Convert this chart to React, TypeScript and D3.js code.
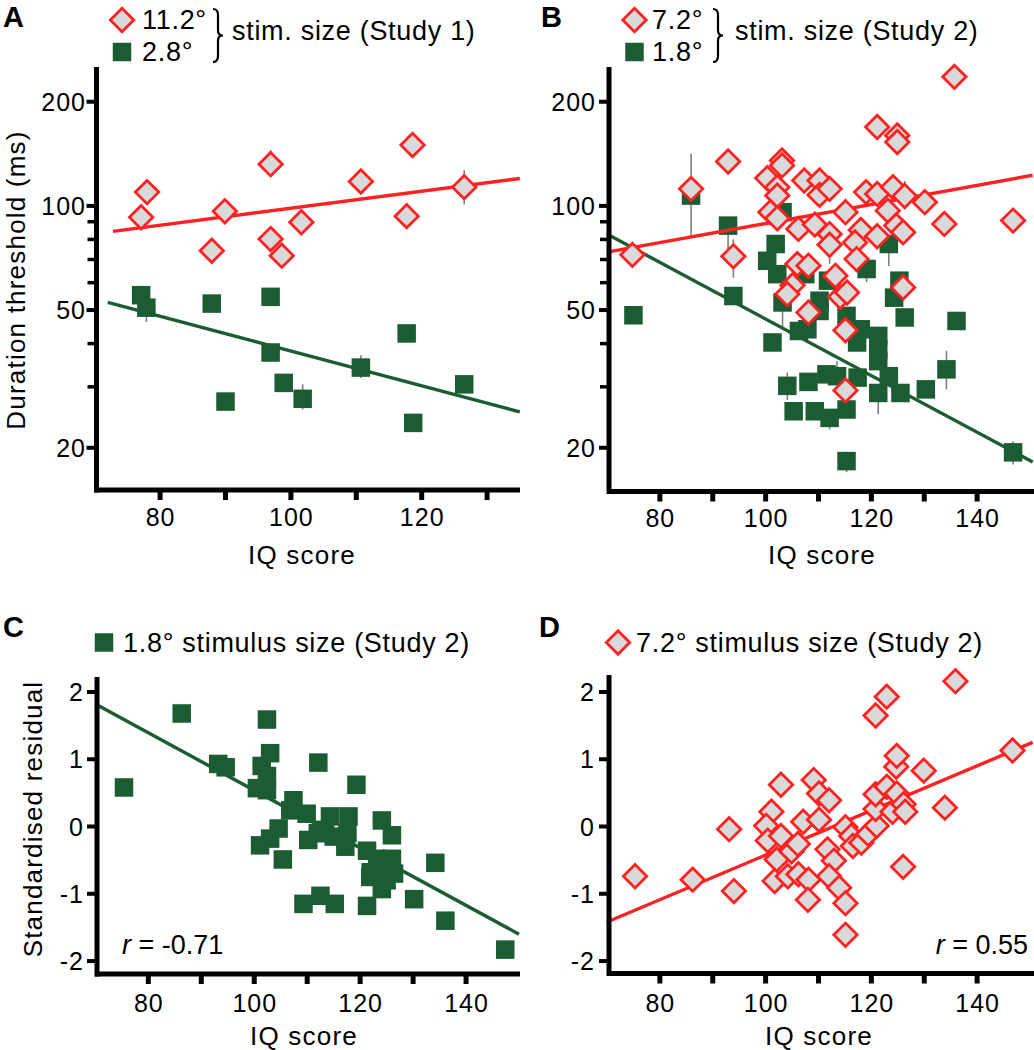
import React from 'react';
import * as d3 from 'd3';

const RED = '#ff2222';
const GREEN = '#1b5c33';
const FILL = '#d9d9d9';
const ERR = '#808080';
const FONT = "'Liberation Sans', Arial, Helvetica, sans-serif";

// ---------- Study 1 (panel A): [IQ, duration threshold ms]
const s1Large: [number, number][] = [
  [77.1, 92.7], [78.0, 109.6], [87.9, 74.2], [89.9, 96.5], [96.9, 132], [96.9, 80.2],
  [98.6, 71.8], [101.6, 89.7], [110.7, 117.6], [117.7, 93.4], [118.6, 150], [126.5, 113.3],
];
const s1Small: [number, number][] = [
  [77.1, 55.2], [77.9, 50.8], [87.9, 52.2], [90.0, 27.2], [96.9, 54.6], [96.9, 37.7],
  [98.9, 30.8], [101.8, 27.7], [110.7, 34.1], [117.7, 42.8], [118.7, 23.6], [126.5, 30.5],
];
const s1LargeErr: [number, number, number][] = [[96.9, 121, 145], [110.7, 109, 127], [126.5, 101, 127]];
const s1SmallErr: [number, number, number][] = [
  [77.9, 46.2, 55], [96.9, 35.8, 40], [101.8, 25.8, 30.5], [110.7, 31.8, 37], [117.7, 41, 44.5], [126.5, 29, 32.3],
];
const s1LargeFit: [number, number][] = [[72.8, 84.4], [135, 120]];
const s1SmallFit: [number, number][] = [[72.0, 52.6], [135, 25.4]];

// ---------- Study 2 (panel B)
const s2Large: [number, number][] = [
  [74.8, 72.2], [85.9, 112], [92.9, 134.4], [93.9, 71.5], [100.3, 120.3], [103.1, 135.3], [103.1, 130.9],
  [102.2, 113.3], [102.2, 107.1], [100.9, 95.9], [102.2, 92.1], [107.3, 118.4], [110.2, 118.4], [110.2, 107.6],
  [112.1, 112], [106.2, 85.8], [109.3, 88.3], [112.1, 82.9], [112.1, 77.2], [106.0, 67.9], [108.1, 67.2],
  [113.2, 62.8], [105.1, 59.0], [104.1, 55.6], [114.1, 54.6], [115.4, 56.2], [108.1, 49.2], [115.1, 43.7],
  [115.1, 29.3], [115.1, 95.9], [119.0, 109.6], [121.1, 108.3], [124.1, 113.3], [126.3, 106.8], [123.1, 96.9],
  [130.1, 102.5], [121.1, 169.1], [124.9, 159.8], [124.9, 153], [135.7, 236], [133.8, 88.7], [146.8, 90.7],
  [118.0, 85.2], [121.1, 81.7], [116.9, 78.4], [117.2, 70.2], [124.7, 87.7], [126.0, 83.9], [126.0, 58.1],
];
const s2Small: [number, number][] = [
  [75.0, 48.3], [85.9, 107.1], [92.9, 87.7], [93.9, 54.9], [103.2, 95.9], [101.9, 77.6], [100.3, 69.4],
  [102.2, 63.5], [103.2, 52.6], [101.3, 40.3], [104.1, 30.2], [105.3, 25.5], [108.1, 31.0], [109.3, 25.5],
  [112.1, 24.4], [115.3, 25.8], [115.3, 18.3], [106.3, 43.5], [107.9, 44.0], [110.2, 53.2], [110.2, 49.7],
  [111.8, 60.8], [107.5, 63.5], [119.1, 65.7], [123.3, 77.6], [115.3, 48.1], [117.3, 40.3], [118.0, 44.0],
  [121.3, 42.1], [121.3, 38.5], [121.3, 35.6], [113.5, 32.2], [117.4, 31.9], [121.3, 28.8], [123.3, 32.2],
  [125.5, 28.8], [130.3, 29.5], [134.2, 33.7], [136.1, 46.5], [124.3, 54.3], [125.3, 60.8], [126.3, 47.6],
  [146.8, 19.4], [111.5, 32.6],
];
const s2LargeErr: [number, number, number][] = [
  [85.9, 82, 141.5], [93.9, 62, 80], [110.2, 107, 125], [112.1, 68, 84], [126.3, 98, 118], [103.1, 125, 140],
];
const s2SmallErr: [number, number, number][] = [
  [92.9, 73.5, 89], [104.1, 27.5, 33], [105.3, 24.5, 26.5], [108.1, 29.8, 32.5], [112.1, 22.6, 25.5],
  [115.3, 17, 19.5], [121.3, 25, 30], [130.3, 28.5, 31], [134.2, 29.5, 38.1], [146.8, 17.9, 20.9],
  [103.2, 44.6, 53], [119.1, 60.2, 66], [123.3, 67, 78], [113.5, 31, 35.6], [109.3, 24.2, 26.5],
];
const s2LargeFit: [number, number][] = [[70, 73.5], [150.5, 122.6]];
const s2SmallFit: [number, number][] = [[70, 82.9], [150.5, 18.2]];

// ---------- Residuals (panels C, D): [IQ, standardised residual]
const residSmall: [number, number][] = [
  [75.4, 0.58], [86.3, 1.68], [93.2, 0.93], [94.6, 0.88], [102.4, 1.59], [103.0, 1.09], [101.4, 0.90],
  [100.5, 0.57], [102.4, 0.54], [102.4, 0.75], [112.1, 0.95], [119.3, 0.62], [107.4, 0.39], [106.8, 0.24],
  [109.9, 0.19], [104.6, -0.03], [103.0, -0.18], [101.1, -0.28], [105.4, -0.49], [110.2, -0.2], [114.3, 0.15],
  [117.8, 0.15], [113.4, -0.05], [115.0, -0.15], [117.2, -0.3], [121.3, -0.36], [124.1, 0.09], [126.0, -0.13],
  [126.0, -0.48], [121.9, -0.75], [125.0, -0.8], [125.0, -0.6], [124.1, -0.93], [123.2, -0.48], [126.4, -0.7],
  [134.2, -0.54], [130.2, -1.08], [121.3, -1.18], [109.3, -1.15], [112.5, -1.03], [115.2, -1.15], [136.1, -1.4],
  [147.4, -1.83], [112.0, -0.1], [117.6, -0.1], [122.0, -0.68],
];
const residLarge: [number, number][] = [
  [75.3, -0.74], [86.2, -0.79], [93.1, -0.04], [94.0, -0.96], [102.9, 0.62], [101.1, 0.22], [100.1, 0.01],
  [100.4, -0.21], [102.9, -0.14], [102.1, -0.49], [101.7, -0.81], [104.2, -0.74], [104.9, -0.37], [106.1, -0.26],
  [107.1, 0.07], [109.1, 0.69], [110.1, 0.49], [112.0, 0.39], [110.1, 0.1], [106.2, -0.71], [108.1, -0.79],
  [108.0, -1.09], [111.7, -0.34], [112.9, -0.51], [112.0, -0.74], [113.9, -0.91], [115.1, -1.14], [115.1, -1.61],
  [115.1, -0.01], [116.2, -0.14], [116.5, -0.29], [118.1, -0.24], [119.4, -0.11], [121.0, 0.01], [120.8, 0.26],
  [120.8, 0.48], [120.8, 1.65], [122.9, 1.93], [122.9, 0.59], [124.0, 0.22], [124.8, 0.49], [124.7, 0.89],
  [124.8, 1.05], [126.1, 0.33], [126.4, 0.22], [126.0, -0.6], [129.9, 0.83], [133.9, 0.28], [135.9, 2.16],
  [146.7, 1.13],
];
const residSmallFit: [number, number][] = [[70, 1.82], [150, -1.6]];
const residLargeFit: [number, number][] = [[70, -1.42], [150.5, 1.25]];

// ---------- ticks
const logMajor = [20, 50, 100, 200];
const logMinor = [30, 40, 60, 70, 80, 90];
const iqTicksA = [80, 90, 100, 110, 120, 130];
const iqLabelsA = [80, 100, 120];
const iqTicks = [80, 90, 100, 110, 120, 130, 140];
const iqLabels = [80, 100, 120, 140];
const residTicks = [-2, -1, 0, 1, 2];

// ---------- scales
const xA = d3.scaleLinear().domain([70, 135]).range([94.7, 519.8]);
const xB = d3.scaleLinear().domain([70, 150]).range([607, 1030]);
const xC = d3.scaleLinear().domain([70, 150]).range([95.4, 519]);
const xD = d3.scaleLinear().domain([70, 150]).range([607, 1030]);
const yLog = d3.scaleLog().domain([15.1, 252]).range([490, 67]);
const yR = d3.scaleLinear().domain([-2.2, 2.2]).range([974.5, 678.5]);

type S = (v: number) => number;

function Diamond({ x, y }: { x: number; y: number }) {
  const r = 11.7;
  return <path d={`M${x},${y - r}L${x + r},${y}L${x},${y + r}L${x - r},${y}Z`} fill={FILL} stroke={RED} strokeWidth={2.8} />;
}
function Square({ x, y }: { x: number; y: number }) {
  const s = 18.5;
  return <rect x={x - s / 2} y={y - s / 2} width={s} height={s} fill={GREEN} />;
}

function FitLine({ data, xs, ys, color }: { data: [number, number][]; xs: S; ys: S; color: string }) {
  const line = d3.line<[number, number]>().x((d) => xs(d[0])).y((d) => ys(d[1]));
  return <path d={line(data) || ''} stroke={color} strokeWidth={3.4} fill="none" />;
}

function ErrBars({ data, xs, ys }: { data: [number, number, number][]; xs: S; ys: S }) {
  return (
    <g>
      {data.map((d, i) => (
        <line key={i} x1={xs(d[0])} x2={xs(d[0])} y1={ys(d[1])} y2={ys(d[2])} stroke={ERR} strokeWidth={1.6} />
      ))}
    </g>
  );
}

const tickFont = { fontFamily: FONT, fontSize: 25, letterSpacing: 1 } as const;
const titleFont = { fontFamily: FONT, fontSize: 26, letterSpacing: 1.2 } as const;
const legFont = { fontFamily: FONT, fontSize: 27, letterSpacing: 0.7 } as const;

function XAxis({ xs, y, x0, x1, ticks, labels, labelY }: { xs: S; y: number; x0: number; x1: number; ticks: number[]; labels: number[]; labelY: number }) {
  return (
    <g>
      <line x1={x0} x2={x1} y1={y} y2={y} stroke="#000" strokeWidth={5} />
      {ticks.map((t) => (
        <line key={t} x1={xs(t)} x2={xs(t)} y1={y} y2={y + 10} stroke="#000" strokeWidth={5} />
      ))}
      {labels.map((t) => (
        <text key={'l' + t} x={xs(t) + 0.5} y={labelY} textAnchor="middle" {...tickFont}>
          {t}
        </text>
      ))}
    </g>
  );
}

function YAxis({ ys, x, y0, y1, major, minor, labelX }: { ys: S; x: number; y0: number; y1: number; major: number[]; minor: number[]; labelX: number }) {
  return (
    <g>
      <line x1={x} x2={x} y1={y0} y2={y1} stroke="#000" strokeWidth={5} />
      {major.map((t) => (
        <line key={t} x1={x - 10} x2={x} y1={ys(t)} y2={ys(t)} stroke="#000" strokeWidth={4} />
      ))}
      {minor.map((t) => (
        <line key={'m' + t} x1={x - 9} x2={x} y1={ys(t)} y2={ys(t)} stroke="#000" strokeWidth={3.5} />
      ))}
      {major.map((t) => (
        <text key={'l' + t} x={labelX + 1} y={ys(t) + 9} textAnchor="end" {...tickFont}>
          {t}
        </text>
      ))}
    </g>
  );
}

function Brace({ x, top, bottom }: { x: number; top: number; bottom: number }) {
  const mid = (top + bottom) / 2;
  const d = `M${x - 5},${top} Q${x},${top} ${x},${top + 6} L${x},${mid - 5} Q${x},${mid} ${x + 5},${mid} Q${x},${mid} ${x},${mid + 5} L${x},${bottom - 6} Q${x},${bottom} ${x - 5},${bottom}`;
  return <path d={d} stroke="#000" strokeWidth={2.2} fill="none" />;
}

const letter = { fontFamily: FONT, fontSize: 29, fontWeight: 'bold' } as const;

export default function App() {
  return (
    <svg width={1034} height={1050} style={{ position: 'absolute', left: 0, top: 0, background: '#fff' }}>
      <rect width={1034} height={1050} fill="#fff" />

      {/* ---------- Panel A ---------- */}
      <text x={3} y={27} {...letter}>A</text>
      <Diamond x={122} y={20} />
      <text x={142} y={29} {...legFont}>11.2°</text>
      <Square x={122} y={52} />
      <text x={142} y={61} {...legFont}>2.8°</text>
      <Brace x={218} top={9} bottom={62} />
      <text x={232} y={40} {...legFont}>stim. size (Study 1)</text>
      <text transform="translate(25,280) rotate(-90)" textAnchor="middle" {...titleFont}>Duration threshold (ms)</text>

      <ErrBars data={s1SmallErr} xs={xA} ys={yLog} />
      <ErrBars data={s1LargeErr} xs={xA} ys={yLog} />
      {s1Small.map((d, i) => <Square key={i} x={xA(d[0])} y={yLog(d[1])} />)}
      <FitLine data={s1SmallFit} xs={xA} ys={yLog} color={GREEN} />
      <FitLine data={s1LargeFit} xs={xA} ys={yLog} color={RED} />
      {s1Large.map((d, i) => <Diamond key={i} x={xA(d[0])} y={yLog(d[1])} />)}
      <YAxis ys={yLog} x={96.5} y0={67} y1={492.5} major={logMajor} minor={logMinor} labelX={85} />
      <XAxis xs={xA} y={490} x0={94} x1={520} ticks={iqTicksA} labels={iqLabelsA} labelY={526} />
      <text x={302} y={564} textAnchor="middle" {...titleFont}>IQ score</text>

      {/* ---------- Panel B ---------- */}
      <text x={541} y={27} {...letter}>B</text>
      <Diamond x={634.5} y={20} />
      <text x={652} y={29} {...legFont}>7.2°</text>
      <Square x={634.5} y={52} />
      <text x={652} y={61} {...legFont}>1.8°</text>
      <Brace x={718} top={9} bottom={62} />
      <text x={735} y={40} {...legFont}>stim. size (Study 2)</text>

      <ErrBars data={s2SmallErr} xs={xB} ys={yLog} />
      <ErrBars data={s2LargeErr} xs={xB} ys={yLog} />
      {s2Small.map((d, i) => <Square key={i} x={xB(d[0])} y={yLog(d[1])} />)}
      <FitLine data={s2SmallFit} xs={xB} ys={yLog} color={GREEN} />
      <FitLine data={s2LargeFit} xs={xB} ys={yLog} color={RED} />
      {s2Large.map((d, i) => <Diamond key={i} x={xB(d[0])} y={yLog(d[1])} />)}
      <YAxis ys={yLog} x={609} y0={67} y1={494} major={logMajor} minor={logMinor} labelX={595} />
      <XAxis xs={xB} y={491.5} x0={607} x1={1034} ticks={iqTicks} labels={iqLabels} labelY={527} />
      <text x={822} y={564} textAnchor="middle" {...titleFont}>IQ score</text>

      {/* ---------- Panel C ---------- */}
      <text x={3} y={637} {...letter}>C</text>
      <Square x={104} y={642.5} />
      <text x={123} y={652} {...legFont}>1.8° stimulus size (Study 2)</text>
      <text transform="translate(42,819) rotate(-90)" textAnchor="middle" {...titleFont}>Standardised residual</text>

      {residSmall.map((d, i) => <Square key={i} x={xC(d[0])} y={yR(d[1])} />)}
      <FitLine data={residSmallFit} xs={xC} ys={yR} color={GREEN} />
      <YAxis ys={yR} x={97} y0={677} y1={976.5} major={residTicks} minor={[]} labelX={83} />
      <XAxis xs={xC} y={974} x0={95} x1={520} ticks={iqTicks} labels={iqLabels} labelY={1012} />
      <text x={304} y={1045} textAnchor="middle" {...titleFont}>IQ score</text>
      <text x={122} y={954} fontFamily={FONT} fontSize={27}>
        <tspan fontStyle="italic">r</tspan> = -0.71
      </text>

      {/* ---------- Panel D ---------- */}
      <text x={539} y={637} {...letter}>D</text>
      <Diamond x={618} y={642.5} />
      <text x={636} y={652} {...legFont}>7.2° stimulus size (Study 2)</text>

      <FitLine data={residLargeFit} xs={xD} ys={yR} color={RED} />
      {residLarge.map((d, i) => <Diamond key={i} x={xD(d[0])} y={yR(d[1])} />)}
      <YAxis ys={yR} x={609} y0={675} y1={976} major={residTicks} minor={[]} labelX={594} />
      <XAxis xs={xD} y={973.5} x0={607} x1={1034} ticks={iqTicks} labels={iqLabels} labelY={1012} />
      <text x={819} y={1045} textAnchor="middle" {...titleFont}>IQ score</text>
      <text x={1028} y={954} textAnchor="end" fontFamily={FONT} fontSize={27}>
        <tspan fontStyle="italic">r</tspan> = 0.55
      </text>
    </svg>
  );
}
